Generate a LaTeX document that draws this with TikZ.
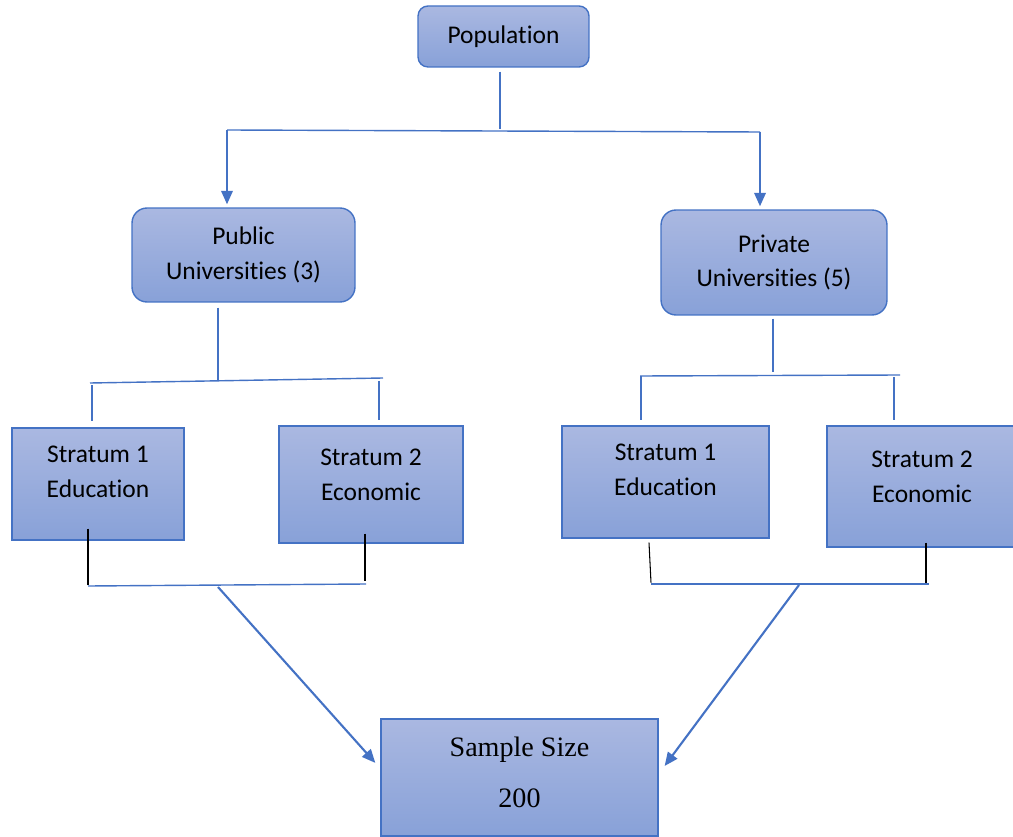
\documentclass[tikz,border=0pt]{standalone}
\usepackage{fontspec}
\setmainfont{Carlito}[Ligatures=NoCommon]
\newfontfamily\timesfont{Liberation Serif}
\usetikzlibrary{arrows.meta,calc,positioning}
\definecolor{boxtop}{RGB}{170,184,225}
\definecolor{boxbottom}{RGB}{136,161,216}
\definecolor{edgeblue}{RGB}{68,114,196}
\tikzset{
  boxtext/.style={align=center, font=\fontsize{14.5}{19.8}\selectfont},
  shadedbox/.style={draw=edgeblue, line width=0.8pt, top color=boxtop,
                    bottom color=boxbottom, inner sep=0pt},
  roundbox/.style={shadedbox, rounded corners=0.3cm, boxtext},
  flatbox/.style={shadedbox},
  link/.style={draw=edgeblue, line width=0.8pt},
  droplink/.style={draw=black, line width=0.6pt},
  arrowlink/.style={draw=edgeblue, line width=1.2pt,
                    -{Triangle[length=0.27cm,width=0.23cm]}}
}

\begin{document}
\begin{tikzpicture}[x=0.02cm, y=-0.02cm]
  \useasboundingbox (0,0) rectangle (1013,837);

  % top of the tree
  \node[roundbox, rounded corners=0.2cm, minimum width=3.42cm,
        minimum height=1.22cm] (pop) at (503.5,36.5) {Population};
  \node[roundbox, minimum width=4.46cm, minimum height=1.88cm]
        (pubU) at (243.5,255) {Public\\Universities (3)};
  \node[roundbox, minimum width=4.52cm, minimum height=2.1cm]
        (privU) at (774,262.5) {Private\\Universities (5)};

  % strata
  \node[flatbox, minimum width=3.44cm, minimum height=2.24cm,
        label={[boxtext, yshift=0.24cm]center:Stratum 1\\Education}]
        (eduL) at (98,484) {};
  \node[flatbox, minimum width=3.68cm, minimum height=2.34cm,
        label={[boxtext, yshift=0.19cm]center:Stratum 2\\Economic}]
        (ecoL) at (371,484.5) {};
  \node[flatbox, minimum width=4.14cm, minimum height=2.24cm,
        label={[boxtext, yshift=0.24cm]center:Stratum 1\\Education}]
        (eduR) at (665.5,482) {};
  \node[flatbox, minimum width=3.8cm, minimum height=2.42cm,
        label={[boxtext, yshift=0.19cm]center:Stratum 2\\Economic}]
        (ecoR) at (922,486.5) {};

  \node[flatbox, minimum width=5.54cm, minimum height=2.34cm,
        label={[align=center, font=\timesfont\fontsize{16}{29}\selectfont,
                yshift=0.11cm]center:Sample Size\\200}]
        (sample) at (519.5,777.5) {};

  % split under the population
  \coordinate (popJ) at (500,129);
  \coordinate (topL) at (227,130);
  \coordinate (topR) at (760,132);
  \draw[link] ($(popJ |- pop.south)+(0,4)$) -- (popJ);
  \draw[link] (topL) -- (topR);
  \draw[arrowlink, shorten >=0.06cm] (topL) -- (topL |- pubU.north);
  \draw[arrowlink, shorten >=0.06cm] (topR) -- (topR |- privU.north);

  % public branch
  \coordinate (pubJ) at (218,381);
  \coordinate (pubL) at (90,383);
  \coordinate (pubR) at (383,378);
  \coordinate (dropA) at (92,385);
  \coordinate (dropB) at (379,381);
  \draw[link] ($(pubJ |- pubU.south)+(0,5)$) -- (pubJ);
  \draw[link] (pubL) -- (pubR);
  \draw[link, shorten >=0.12cm] (dropA) -- (dropA |- eduL.north);
  \draw[link, shorten >=0.1cm] (dropB) -- (dropB |- ecoL.north);

  % private branch
  \coordinate (privJ) at (773,372);
  \coordinate (privL) at (640,376);
  \coordinate (privR) at (900,375);
  \coordinate (dropC) at (641,376);
  \coordinate (dropD) at (894,377);
  \draw[link] ($(privJ |- privU.south)+(0,3)$) -- (privJ);
  \draw[link] (privL) -- (privR);
  \draw[link, shorten >=0.1cm] (dropC) -- (dropC |- eduR.north);
  \draw[link, shorten >=0.1cm] (dropD) -- (dropD |- ecoR.north);

  % merging into the sample
  \draw[droplink] ($(eduL.south)+(-10,-12)$) -- +(0,56);
  \draw[droplink] ($(ecoL.south)+(-6,-10)$) -- +(0,47);
  \draw[droplink] ($(eduR.south)+(-16.5,4)$) -- +(2,40);
  \draw[droplink] ($(ecoR.south)+(4,-5)$) -- +(0,40);

  \coordinate (baseL1) at (88,586);
  \coordinate (baseL2) at (366,584);
  \coordinate (baseR1) at (651,584);
  \coordinate (baseR2) at (929,584);
  \coordinate (mergeL) at (218,587);
  \coordinate (mergeR) at (799,585);
  \draw[link] (baseL1) -- (baseL2);
  \draw[link] (baseR1) -- (baseR2);
  \draw[arrowlink, shorten >=0.15cm] (mergeL) -- ($(sample.west)+(0,-9)$);
  \draw[arrowlink, shorten >=0.2cm] (mergeR) -- ($(sample.east)+(0,-3.5)$);
\end{tikzpicture}
\end{document}
